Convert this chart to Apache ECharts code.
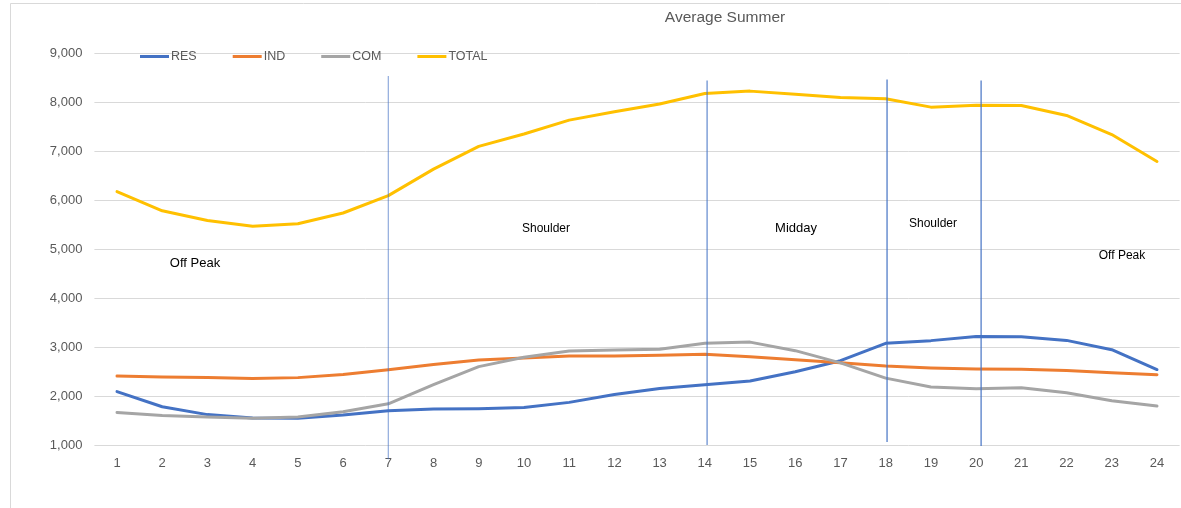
<!DOCTYPE html>
<html>
<head>
<meta charset="utf-8">
<script src="https://cdn.jsdelivr.net/npm/echarts@6/dist/echarts.min.js"></script>
<style>
html,body{margin:0;padding:0;background:#fff;}
#c{width:1181px;height:508px;}
</style>
</head>
<body>
<div id="c"></div>
<script>
const hours = ['1','2','3','4','5','6','7','8','9','10','11','12','13','14','15','16','17','18','19','20','21','22','23','24'];
const res = [2090,1780,1620,1550,1545,1610,1700,1735,1740,1765,1870,2030,2155,2230,2305,2495,2720,3075,3130,3215,3210,3135,2945,2540];
const ind = [2410,2390,2380,2355,2375,2440,2535,2645,2735,2775,2815,2815,2830,2850,2800,2740,2680,2610,2570,2550,2545,2520,2475,2435];
const com = [1665,1600,1570,1545,1570,1680,1840,2230,2600,2790,2920,2940,2955,3075,3100,2925,2675,2365,2185,2150,2170,2065,1905,1795];
const total = [6170,5780,5580,5465,5515,5735,6090,6630,7095,7347,7630,7800,7960,8175,8222,8160,8090,8065,7895,7935,7928,7725,7335,6785];
const yTicks = {min:1000, max:9000, interval:1000};
const periodLines = [
  {hour:'7', offset:0, top:8530, bottom:710, opacity:0.6},
  {hour:'14', offset:0.05, top:8440, bottom:1000, opacity:0.85},
  {hour:'18', offset:0.03, top:8460, bottom:1060, opacity:1},
  {hour:'20', offset:0.11, top:8440, bottom:980, opacity:1}
];
const periodLabels = [
  {text:'Off Peak', x:195, y:263, size:13},
  {text:'Shoulder', x:546, y:229, size:12},
  {text:'Midday', x:796, y:228, size:13},
  {text:'Shoulder', x:933, y:224, size:12},
  {text:'Off Peak', x:1122, y:256, size:12}
];

const chart = echarts.init(document.getElementById('c'));
const font = '"Liberation Sans", Arial, sans-serif';
function lineSeries(name, data, color){
  return {name, type:'line', data, symbol:'none', smooth:false,
    lineStyle:{width:3, color, cap:'round', join:'round'}, itemStyle:{color}, z:3};
}
const baseGraphic = [
  {type:'rect', shape:{x:10.5, y:3.5, width:1300, height:700}, silent:true,
    style:{fill:'none', stroke:'#d9d9d9', lineWidth:1}, z:-1},
  ...periodLabels.map(p=>({type:'text', x:p.x, y:p.y, silent:true,
    style:{text:p.text, fontSize:p.size, fill:'#000', align:'center', verticalAlign:'middle', fontFamily:font}}))
];
chart.setOption({
  animation:false,
  backgroundColor:'#fff',
  textStyle:{fontFamily:font},
  title:{text:'Average Summer', left:725, top:10, padding:0, textAlign:'center',
    textStyle:{fontSize:15.5, fontWeight:'normal', color:'#595959', fontFamily:font}},
  legend:{left:140, top:50, padding:0, itemWidth:29, itemHeight:3, itemGap:36, icon:'rect',
    textStyle:{fontSize:12.5, color:'#595959', padding:[0,0,0,-3]},
    data:['RES','IND','COM','TOTAL']},
  grid:{left:94.4, right:1.4, top:53, bottom:63, containLabel:false},
  xAxis:{type:'category', data:hours, boundaryGap:true,
    axisLine:{show:false}, axisTick:{show:false},
    axisLabel:{color:'#595959', fontSize:13, margin:12}},
  yAxis:{type:'value', min:yTicks.min, max:yTicks.max, interval:yTicks.interval,
    axisLine:{show:false}, axisTick:{show:false},
    splitLine:{lineStyle:{color:'#d9d9d9', width:1}},
    axisLabel:{color:'#595959', fontSize:13, margin:12,
      formatter:v=>v.toLocaleString('en-US')}},
  graphic: baseGraphic,
  series:[
    lineSeries('RES', res, '#4472C4'),
    lineSeries('IND', ind, '#ED7D31'),
    lineSeries('COM', com, '#A5A5A5'),
    lineSeries('TOTAL', total, '#FFC000')
  ]
});
const p0 = chart.convertToPixel({gridIndex:0}, [0, 1000]);
const p1 = chart.convertToPixel({gridIndex:0}, [1, 1000]);
const band = p1[0] - p0[0];
const lineGraphics = periodLines.map(p=>{
  const idx = hours.indexOf(p.hour);
  const a = chart.convertToPixel({gridIndex:0}, [idx, p.top]);
  const b = chart.convertToPixel({gridIndex:0}, [idx, p.bottom]);
  const x = a[0] + p.offset * band;
  return {type:'line', silent:true, z:5,
    shape:{x1:x, y1:a[1], x2:x, y2:b[1]},
    style:{stroke:'#4472C4', lineWidth:1.2, opacity:p.opacity}};
});
chart.setOption({graphic: baseGraphic.concat(lineGraphics)}, {replaceMerge:['graphic']});
</script>
</body>
</html>
